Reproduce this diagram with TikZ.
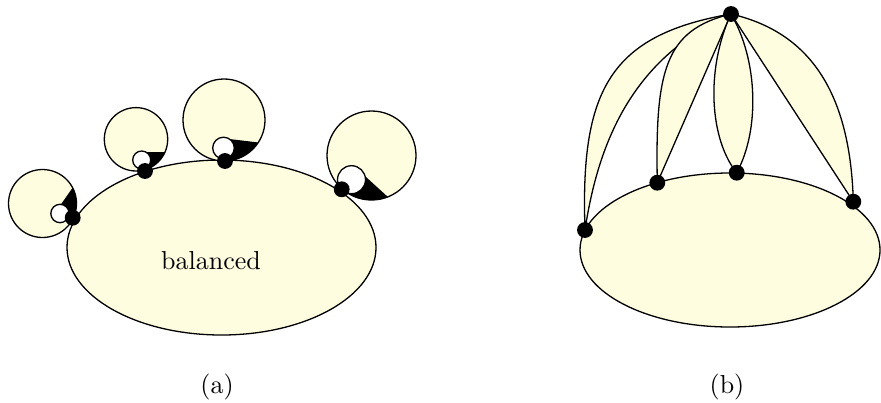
\documentclass[tikz,border=0pt]{standalone}
\definecolor{lightfill}{RGB}{255,253,224}
\begin{document}
\begin{tikzpicture}[x=0.3846pt,y=-0.3846pt,line width=0.5pt,
  region/.style={fill=lightfill,draw=black},
  hole/.style={fill=white,draw=black},
  dot/.style={circle,fill=black,inner sep=0pt,minimum size=6.1pt},
  wedgefill/.style={fill=black}]
\useasboundingbox (0,0) rectangle (881,402);

% ---------- (a) ----------
\path[region] (221.5,247.5) ellipse [x radius=154.5, y radius=87.5];

% big circles
\path[region] (42.5,203.5) circle [radius=34];
\path[region] (136,139.3) circle [radius=31.7];
\path[region] (224,120) circle [radius=41];
\path[region] (371.5,155.5) circle [radius=44.5];

% black wedges
\begin{scope}
  \clip (42.5,203.5) circle [radius=34];
  \path[wedgefill] (59.4,206.6) -- (85,170) -- (110,170) -- (110,240) -- (72.7,217.7) -- (60,214) -- cycle;
\end{scope}
\begin{scope}
  \clip (136,139.3) circle [radius=31.7];
  \path[wedgefill] (143,152.2) -- (185,152.2) -- (185,200) -- (145,171) -- (141.7,160) -- cycle;
\end{scope}
\begin{scope}
  \clip (224,120) circle [radius=41];
  \path[wedgefill] (226,138.6) -- (300,147.5) -- (300,200) -- (225,161) -- (223.3,148.3) -- cycle;
\end{scope}
\begin{scope}
  \clip (371.5,155.5) circle [radius=44.5];
  \path[wedgefill] (358.1,169.8) -- (400,208) -- (400,240) -- (341.7,189.3) -- (351.5,179.7) -- cycle;
\end{scope}

% white circles
\path[hole] (60,213.5) circle [radius=9.2];
\path[hole] (141.7,160) circle [radius=9];
\path[hole] (223.5,148) circle [radius=10.8];
\path[hole] (351.5,179.7) circle [radius=14];

% dots
\node[dot] (d1) at (72.7,217.7) {};
\node[dot] (d2) at (145,171) {};
\node[dot] (d3) at (225,161) {};
\node[dot] (d4) at (341.7,189.3) {};

\node[anchor=base] (bal) at (211,269) {balanced};
\node[anchor=base] (capa) at (217,393) {(a)};

% ---------- (b) ----------
\path[region] (730,250) ellipse [x radius=150, y radius=77];

\coordinate (T) at (731,14);
\coordinate (A) at (585,230);
\coordinate (B) at (657.3,182.7);
\coordinate (C) at (736.7,172.7);
\coordinate (D) at (853.3,201.7);

\path[region] (T) .. controls (610,35) and (580,90) .. (A)
              .. controls (600,130) and (640,55) .. (T) -- cycle;
\path[region] (T) .. controls (665,30) and (655,70) .. (B) -- (T) -- cycle;
\path[region] (T) .. controls (705,70) and (710,140) .. (C)
              .. controls (760,130) and (758,60) .. (T) -- cycle;
\path[region] (T) .. controls (800,30) and (850,80) .. (D) -- (T) -- cycle;

\node[dot] (dT) at (T) {};
\node[dot] (dA) at (A) {};
\node[dot] (dB) at (B) {};
\node[dot] (dC) at (C) {};
\node[dot] (dD) at (D) {};

\node[anchor=base] (capb) at (727,393) {(b)};
\end{tikzpicture}
\end{document}
